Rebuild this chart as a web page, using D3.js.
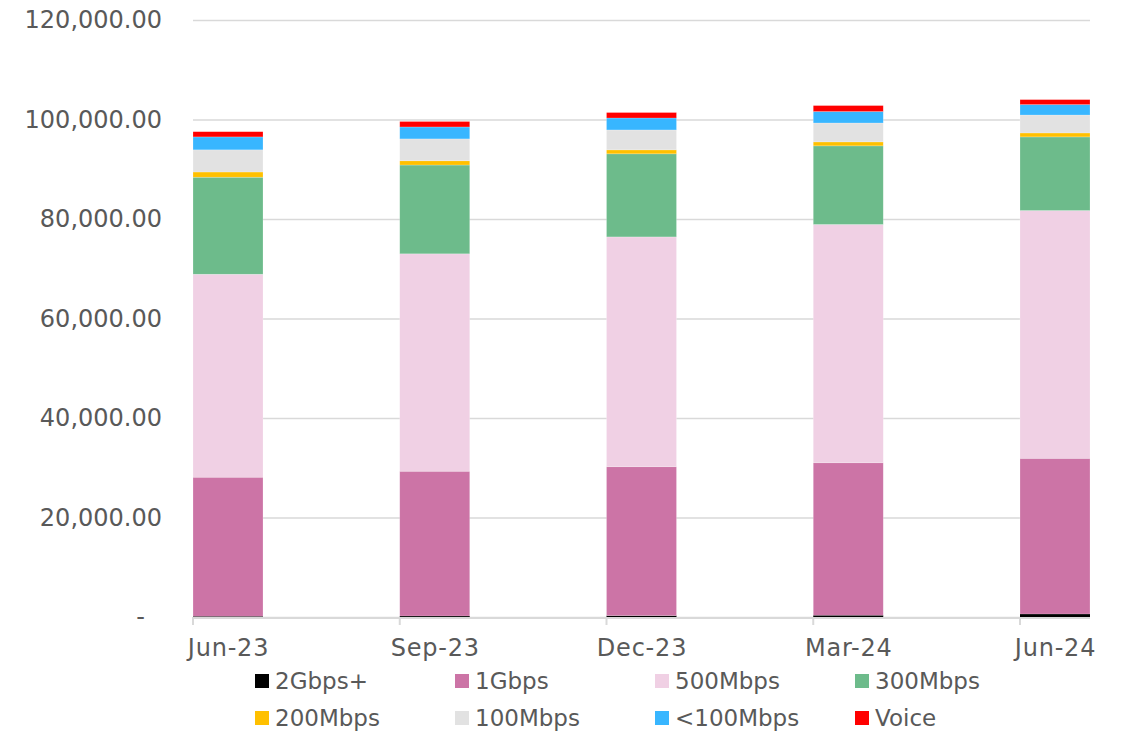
<!DOCTYPE html>
<html>
<head>
<meta charset="utf-8">
<script src="https://cdn.jsdelivr.net/npm/d3@7"></script>
<style>
  body { margin: 0; background: #fff; }
  svg text { font-family: "DejaVu Sans", Verdana, sans-serif; fill: #595959; }
</style>
</head>
<body>
<svg id="chart" width="1122" height="732"></svg>
<script>
// categories and series
const months = ["Jun-23", "Sep-23", "Dec-23", "Mar-24", "Jun-24"];
const seriesNames = ["2Gbps+", "1Gbps", "500Mbps", "300Mbps", "200Mbps", "100Mbps", "<100Mbps", "Voice"];
const gbps2 = [150, 200, 270, 350, 600];
const gbps1 = [27950, 29100, 29930, 30650, 31300];
const mbps500 = [40800, 43700, 46200, 47900, 49800];
const mbps300 = [19500, 17850, 16700, 15800, 14800];
const mbps200 = [1050, 850, 800, 800, 800];
const mbps100 = [4450, 4400, 4000, 3800, 3600];
const under100 = [2600, 2400, 2400, 2300, 2100];
const voice = [1050, 1100, 1100, 1200, 1000];
const yTicks = [0, 20000, 40000, 60000, 80000, 100000, 120000];

const colors = ["#000000", "#cc74a6", "#f0d0e4", "#6dbb8b", "#ffc000", "#e2e2e2", "#38b6ff", "#ff0000"];
const seriesValues = [gbps2, gbps1, mbps500, mbps300, mbps200, mbps100, under100, voice];

// build rows for d3.stack
const table = months.map(function (m, i) {
    const row = { month: m };
    seriesNames.forEach(function (s, j) { row[s] = seriesValues[j][i]; });
    return row;
});

const margin = { top: 20, right: 32, bottom: 115, left: 193 },
    width = 1122,
    height = 732,
    barW = 70;

const svg = d3.select("#chart");

const x = d3.scalePoint()
    .domain(months)
    .range([margin.left + barW / 2, width - margin.right - barW / 2]);

const y = d3.scaleLinear()
    .domain([0, 120000])
    .range([height - margin.bottom, margin.top]);

// gridlines + y labels
const yAxis = svg.append("g")
    .attr("transform", `translate(${margin.left},0)`)
    .call(d3.axisLeft(y)
        .tickValues(yTicks)
        .tickSize(-(width - margin.right - margin.left))
        .tickPadding(31)
        .tickFormat(function (d) { return d === 0 ? "-" : d3.format(",.2f")(d); }));
yAxis.select(".domain").remove();
yAxis.selectAll(".tick line").attr("stroke", "#d9d9d9").attr("stroke-width", 1.5);
yAxis.selectAll(".tick text").style("font-size", "24px");
yAxis.selectAll(".tick").filter(function (d) { return d === 0; })
    .select("text").attr("x", -48);

// stacked bars
const stack = d3.stack().keys(seriesNames);
const layers = stack(table);

svg.append("g").selectAll("g")
    .data(layers)
    .join("g")
    .attr("fill", function (d, i) { return colors[i]; })
    .attr("stroke-width", function (d, i) { return i === 0 ? 0 : 0.6; })
    .selectAll("rect")
    .data(function (d) { return d; })
    .join("rect")
    .attr("x", function (d) { return x(d.data.month) - barW / 2; })
    .attr("y", function (d) { return y(d[1]); })
    .attr("width", barW)
    .attr("height", function (d) { return Math.max(1, y(d[0]) - y(d[1])); })
    .attr("stroke", "#ffffff")
    .attr("stroke-opacity", 0.35);

// x axis
const xAxis = svg.append("g")
    .attr("transform", `translate(0,${height - margin.bottom})`)
    .call(d3.axisBottom(x).tickSize(0).tickPadding(22));
xAxis.select(".domain").remove();
xAxis.selectAll(".tick text").style("font-size", "24px").style("letter-spacing", "0.8px");

svg.append("line")
    .attr("x1", margin.left).attr("x2", width - margin.right)
    .attr("y1", y(0) + 1).attr("y2", y(0) + 1)
    .attr("stroke", "#d9d9d9").attr("stroke-width", 2);

svg.append("g").selectAll("line")
    .data(months)
    .join("line")
    .attr("x1", function (d) { return x(d) - barW / 2; })
    .attr("x2", function (d) { return x(d) - barW / 2; })
    .attr("y1", y(0)).attr("y2", y(0) + 8)
    .attr("stroke", "#d9d9d9").attr("stroke-width", 2);

// legend: two rows of four
const legend = svg.append("g").selectAll("g")
    .data(seriesNames)
    .join("g")
    .attr("transform", function (d, i) {
        return `translate(${255 + (i % 4) * 200},${681 + Math.floor(i / 4) * 37})`;
    });

legend.append("rect")
    .attr("x", 0).attr("y", -7)
    .attr("width", 14).attr("height", 14)
    .attr("fill", function (d, i) { return colors[i]; });

legend.append("text")
    .attr("x", 20).attr("y", 0)
    .attr("dy", "0.35em")
    .style("font-size", "23px")
    .text(function (d) { return d; });
</script>
</body>
</html>
